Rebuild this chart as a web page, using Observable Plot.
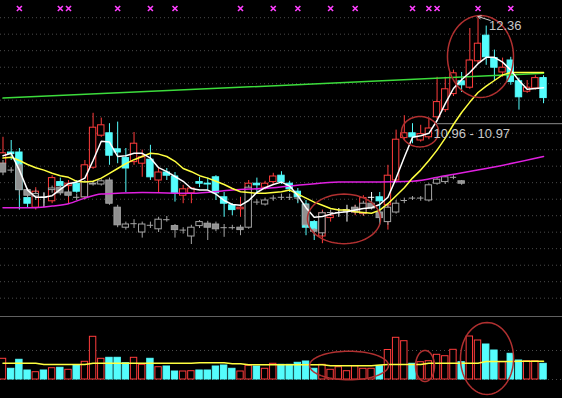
<!DOCTYPE html>
<html><head><meta charset="utf-8">
<script src="https://cdn.jsdelivr.net/npm/d3@7"></script>
<script src="https://cdn.jsdelivr.net/npm/@observablehq/plot@0.6"></script>
<style>
html,body{margin:0;padding:0;background:#000;overflow:hidden;}
#chart svg{display:block;}
</style></head><body><div id="chart"></div>
<script>
// ---- main candles (price) ----
const opens  = [10.52,10.66,10.66,10.09,9.97,10.10,10.05,10.29,10.24,10.27,10.10,10.47,10.87,10.90,10.70,10.59,10.54,10.52,10.57,10.31,10.41,10.36,10.12,10.15,10.29,10.27,10.35,10.10,10.00,9.95,10.16,10.27,10.22,10.29,10.37,10.27,10.17,10.01,9.79,9.61,9.84,9.91,9.94,9.91,9.89,10.10,10.10,10.00,10.31,10.84,10.90,10.81,10.85,11.10,11.19,11.39,11.55,11.47,11.80,12.12,11.84,11.66,11.81,11.55,11.42,11.46,11.59];
const closes = [10.65,10.64,10.19,10.02,10.17,10.10,10.34,10.24,10.27,10.17,10.50,10.97,11.00,10.62,10.66,10.46,10.77,10.60,10.35,10.41,10.37,10.15,10.20,10.21,10.27,10.26,10.15,10.02,9.94,9.97,10.27,10.25,10.27,10.36,10.29,10.20,10.10,9.72,9.70,9.90,9.87,9.91,9.94,9.96,10.09,10.10,10.05,10.37,10.82,10.90,10.85,10.89,10.96,11.29,11.45,11.65,11.50,11.81,12.02,11.85,11.72,11.72,11.54,11.35,11.47,11.59,11.34];
const highs  = [10.85,10.81,10.71,10.15,10.22,10.15,10.37,10.34,10.31,10.31,10.56,11.15,11.09,11.02,11.04,10.71,10.91,10.69,10.75,10.46,10.46,10.41,10.25,10.22,10.35,10.34,10.37,10.16,10.02,10.10,10.31,10.34,10.30,10.40,10.42,10.30,10.21,10.06,9.81,9.94,9.91,9.96,10.00,10.00,10.12,10.16,10.16,10.50,10.94,11.12,11.02,11.00,11.09,11.60,11.60,11.69,11.66,12.21,12.36,12.24,11.94,11.84,11.85,11.59,11.56,11.62,11.62];
const lows   = [10.49,10.56,9.94,9.97,9.94,9.97,10.02,10.19,10.02,10.15,10.07,10.45,10.85,10.50,10.52,10.16,10.50,10.35,10.31,10.15,10.31,10.04,10.02,10.02,10.22,10.19,10.06,9.85,9.87,9.85,9.97,10.16,10.19,10.25,10.26,10.16,10.02,9.62,9.56,9.52,9.79,9.85,9.79,9.87,9.86,10.01,9.75,9.69,10.29,10.81,10.77,10.79,10.82,11.07,11.16,11.36,11.41,11.45,11.77,11.75,11.56,11.60,11.50,11.19,11.40,11.44,11.27];
const volumes = [2070,1070,1970,900,730,900,1130,1170,970,1400,1770,4270,2070,2170,2170,1630,2170,1470,2070,1230,1300,800,800,830,900,900,1300,1400,1070,800,1370,1300,1070,1570,1470,1470,1670,1800,1070,1470,970,1230,830,1330,1070,1070,1330,2950,4170,3830,1570,1730,1830,2470,2330,2970,1730,4300,3900,3500,2900,1730,2570,1900,1830,1830,1570];
const volMA = [1630,1630,1630,1630,1630,1500,1500,1500,1500,1500,1500,1630,1630,1630,1630,1630,1630,1630,1630,1630,1630,1630,1630,1630,1670,1670,1670,1670,1570,1570,1470,1470,1470,1470,1470,1470,1470,1470,1470,1470,1370,1370,1370,1370,1370,1370,1450,1500,1500,1500,1500,1500,1630,1630,1630,1630,1630,1630,1630,1800,1800,1800,1800,1830,1830,1830,1830];

// ---- overlaid comparison candles (grey) ----
const grayOpen  = [10.52,10.44,10.50,10.19,10.11,10.10,10.19,10.22,10.16,10.10,10.10,10.26,10.26,10.31,9.97,9.72,9.77,9.66,9.75,9.70,9.82,9.74,9.69,9.61,9.74,9.77,9.76,9.72,9.72,9.72,9.72,10.04,10.01,10.09,10.10,10.10,10.09,10.00,9.69,9.65,9.91,9.91,9.94,9.97,9.90,10.02,9.91,9.79,9.91,10.06,10.09,10.09,10.06,10.27,10.29,10.35,10.30];
const grayClose = [10.41,10.44,10.19,10.12,10.14,10.10,10.21,10.15,10.12,10.10,10.29,10.27,10.30,10.02,9.75,9.76,9.77,9.76,9.75,9.82,9.82,9.69,9.69,9.72,9.79,9.72,9.70,9.72,9.72,9.69,10.22,10.04,10.06,10.09,10.10,10.10,10.09,9.75,9.67,9.90,9.91,9.91,9.92,9.91,10.02,9.96,9.84,9.97,10.02,10.06,10.09,10.09,10.25,10.32,10.35,10.35,10.27];
const grayHigh  = [10.56,10.47,10.52,10.21,10.19,10.16,10.24,10.25,10.19,10.14,10.31,10.30,10.32,10.34,10.00,9.79,9.82,9.79,9.79,9.85,9.86,9.76,9.72,9.75,9.81,9.80,9.79,9.76,9.75,9.75,10.25,10.07,10.09,10.12,10.14,10.14,10.12,10.02,9.71,9.92,9.94,9.95,9.96,10.00,10.05,10.06,9.94,10.00,10.06,10.09,10.11,10.11,10.27,10.34,10.37,10.37,10.31];
const grayLow   = [10.37,10.40,10.12,10.09,10.06,10.02,10.15,10.12,10.10,10.06,10.07,10.24,10.24,10.00,9.72,9.69,9.71,9.59,9.71,9.66,9.79,9.59,9.64,9.51,9.71,9.56,9.67,9.60,9.69,9.62,9.70,10.00,9.99,10.05,10.06,10.06,10.04,9.71,9.61,9.61,9.86,9.87,9.89,9.89,9.87,9.94,9.81,9.75,9.89,10.02,10.06,10.05,10.04,10.25,10.26,10.32,10.25];

// ---- moving averages ----
const ma5  = [10.62,10.65,10.44,10.19,10.10,10.10,10.12,10.20,10.27,10.29,10.34,10.56,10.80,10.79,10.61,10.62,10.65,10.65,10.59,10.47,10.42,10.36,10.30,10.21,10.19,10.19,10.14,10.06,10.01,10.00,10.06,10.16,10.22,10.26,10.29,10.24,10.12,9.97,9.85,9.86,9.89,9.91,9.92,9.94,9.96,9.97,10.01,10.10,10.34,10.60,10.85,10.87,10.90,11.06,11.27,11.46,11.57,11.66,11.77,11.85,11.85,11.79,11.69,11.56,11.45,11.46,11.47];
const ma10 = [10.59,10.60,10.56,10.51,10.47,10.44,10.40,10.37,10.35,10.30,10.29,10.30,10.34,10.40,10.46,10.52,10.57,10.61,10.65,10.64,10.61,10.55,10.46,10.42,10.37,10.34,10.30,10.26,10.21,10.17,10.16,10.15,10.15,10.16,10.17,10.19,10.14,10.09,10.04,10.00,9.96,9.94,9.94,9.92,9.91,9.90,9.94,10.02,10.12,10.22,10.34,10.44,10.56,10.69,10.84,11.01,11.16,11.29,11.41,11.49,11.56,11.63,11.66,11.66,11.66,11.66,11.66];
const ma60Bar = [1,5,7,9,11,13,15,18,24,29,34,38,42,47,51,55,60,67];
const ma60    = [9.97,9.97,9.99,10.02,10.09,10.14,10.15,10.16,10.15,10.19,10.22,10.26,10.29,10.29,10.30,10.37,10.46,10.61];
const ma250Bar = [1,46,67];
const ma250    = [11.34,11.55,11.65];

// ---- annotations ----
const markerBars = [3,8,9,15,19,22,30,34,37,41,44,51,53,54,59,63];
const gridLevels = [12.345,12.139,11.933,11.726,11.520,11.314,11.108,10.901,10.695,10.489,10.283,10.076,9.870,9.664,9.458,9.251,9.045,8.839];
const levelPrice = [11.02];
const levelStart = [54.05];
const levelLabel = ["10.96 - 10.97"];
const highBar = [59];
const highLabel = ["12.36"];
const ringBar   = [59.30, 51.92, 42.64];
const ringPrice = [11.86, 10.92, 9.83];
const ringRx    = [4.03, 2.26, 4.46];
const ringRy    = [0.5125, 0.19, 0.31];
const volRingBar = [43.25, 52.53, 60.10];
const volRingVol = [1400, 1350, 2100];
const volRingRx  = [4.82, 1.16, 3.24];
const volRingRy  = [1430, 1550, 3600];

// ---- styling ----
const RED = "#ff3c3c", CYAN = "#54fcfc", WHITE = "#ffffff", GRAY = "#a4a4a4";
const RING = "#b03030", DOT = "#4a4a4a";
const HW = 0.39;
const XDOM = [0.695, 69.315];

const bars = opens.map((o, k) => ({
  i: k + 1, open: o, close: closes[k], high: highs[k], low: lows[k],
  vol: volumes[k], vma: volMA[k], m5: ma5[k], m10: ma10[k],
  prev: k ? closes[k - 1] : o
}));
bars.forEach(d => {
  d.up = d.close > d.open || (d.close === d.open && d.close >= d.prev);
  d.col = d.close > d.open ? RED : d.close < d.open ? CYAN : WHITE;
});
const grays = grayOpen.map((o, k) => ({i: k + 1, open: o, close: grayClose[k], high: grayHigh[k], low: grayLow[k]}));
const ma60Pts = ma60Bar.map((b, k) => ({i: b, v: ma60[k]}));
const ma250Pts = ma250Bar.map((b, k) => ({i: b, v: ma250[k]}));

function ellipse(cx, cy, rx, ry, id) {
  return d3.range(0, 73).map(a => {
    const t = a / 72 * 2 * Math.PI;
    return {id, x: cx + rx * Math.cos(t), y: cy + ry * Math.sin(t)};
  });
}
const rings = ringBar.flatMap((b, k) => ellipse(b, ringPrice[k], ringRx[k], ringRy[k], k));
const volRings = volRingBar.flatMap((b, k) => ellipse(b, volRingVol[k], volRingRx[k], volRingRy[k], k));
const levels = levelPrice.map((p, k) => ({p, s: levelStart[k], label: levelLabel[k]}));
const highs2 = highBar.map((b, k) => ({i: b, p: highs[b - 1], label: highLabel[k]}));

const price = Plot.plot({
  width: 562, height: 316, margin: 0,
  style: {background: "#000", overflow: "visible"},
  x: {domain: XDOM, axis: null},
  y: {domain: [8.61, 12.56], axis: null},
  color: {type: "identity"},
  marks: [
    Plot.ruleY(gridLevels, {stroke: DOT, strokeDasharray: "1,3"}),
    Plot.ruleY(levels, {y: "p", x1: "s", x2: () => XDOM[1], stroke: "#8c8c8c"}),
    // main candles
    Plot.ruleX(bars, {x: "i", y1: "low", y2: "high", stroke: "col"}),
    Plot.rect(bars.filter(d => d.open !== d.close), {
      x1: d => d.i - HW, x2: d => d.i + HW, y1: "open", y2: "close",
      stroke: "col", fill: d => d.close > d.open ? "#000" : CYAN
    }),
    Plot.ruleY(bars.filter(d => d.open === d.close), {y: "open", x1: d => d.i - HW, x2: d => d.i + HW, stroke: WHITE}),
    // grey comparison candles
    Plot.ruleX(grays, {x: "i", y1: "low", y2: "high", stroke: GRAY}),
    Plot.rect(grays.filter(d => d.open !== d.close), {
      x1: d => d.i - HW, x2: d => d.i + HW, y1: "open", y2: "close",
      stroke: GRAY, fill: d => d.close > d.open ? "#000" : "#909090"
    }),
    Plot.ruleY(grays.filter(d => d.open === d.close), {y: "open", x1: d => d.i - HW, x2: d => d.i + HW, stroke: GRAY}),
    // moving averages
    Plot.line(ma250Pts, {x: "i", y: "v", stroke: "#3cdc3c", curve: "linear"}),
    Plot.line(ma60Pts, {x: "i", y: "v", stroke: "#e020e0", curve: "monotone-x"}),
    Plot.line(bars, {x: "i", y: "m10", stroke: "#ffff40"}),
    Plot.line(bars, {x: "i", y: "m5", stroke: "#ffffff"}),
    // rings
    Plot.line(rings, {x: "x", y: "y", z: "id", stroke: RING, curve: "linear"}),
    // markers
    Plot.dot(markerBars, {x: d => d, frameAnchor: "top", dy: 8, symbol: "times", r: 2.4, stroke: "#ff40ff", strokeWidth: 1.6}),
    // labels
    Plot.arrow(highs2, {x1: d => d.i + 1.5, y1: d => d.p - 0.05, x2: "i", y2: "p", stroke: "#d0d0d0", headLength: 5, strokeWidth: 1}),
    Plot.text(highs2, {x: "i", y: "p", text: "label", dx: 11, dy: 9, textAnchor: "start", fill: "#c8c8c8", fontSize: 13, fontFamily: "Liberation Sans, Arial, sans-serif"}),
    Plot.text(levels, {x: "s", y: "p", text: "label", dx: -4, dy: 10, textAnchor: "start", fill: "#c8c8c8", fontSize: 13, fontFamily: "Liberation Sans, Arial, sans-serif"})
  ]
});

const volume = Plot.plot({
  width: 562, height: 82, margin: 0,
  style: {background: "#000", overflow: "visible"},
  x: {domain: XDOM, axis: null},
  y: {domain: [0, 6300], range: [63, 0], axis: null},
  color: {type: "identity"},
  marks: [
    Plot.ruleY([6300], {stroke: "#606060"}),
    Plot.ruleY([2900, 0], {stroke: DOT, strokeDasharray: "1,3"}),
    Plot.rect(bars, {
      x1: d => d.i - HW, x2: d => d.i + HW, y1: () => 0, y2: "vol",
      stroke: d => d.up ? RED : CYAN, fill: d => d.up ? "#000" : CYAN
    }),
    Plot.line(bars, {x: "i", y: "vma", stroke: "#ffff40"}),
    Plot.line(volRings, {x: "x", y: "y", z: "id", stroke: RING, curve: "linear"})
  ]
});

document.getElementById("chart").append(price, volume);
</script>
</body></html>
